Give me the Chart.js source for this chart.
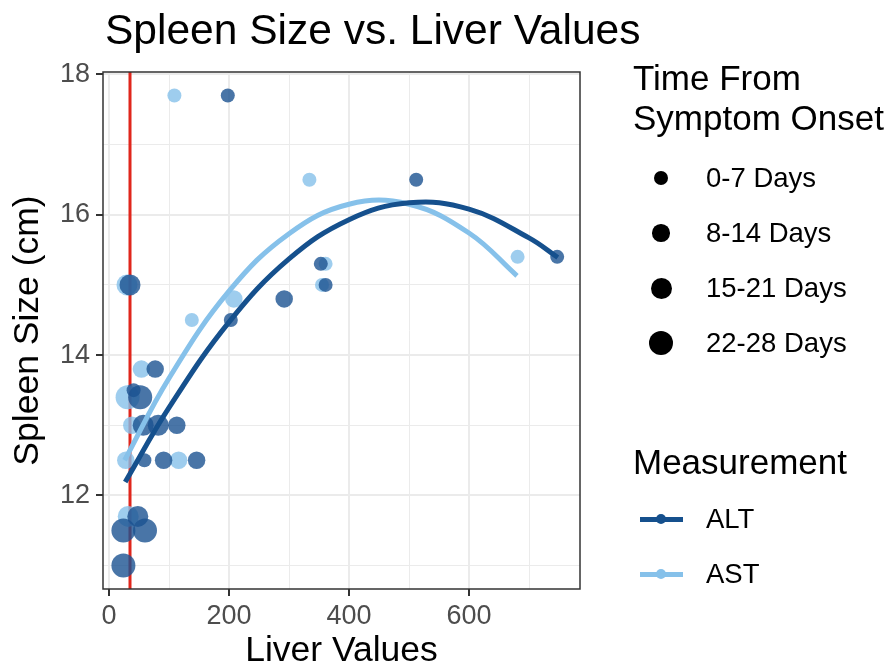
<!DOCTYPE html>
<html>
<head>
<meta charset="utf-8">
<script src="https://cdn.jsdelivr.net/npm/chart.js@4.4.1/dist/chart.umd.min.js"></script>
<style>
  body { margin: 0; background: #fff; font-family: "Liberation Sans", Arial, sans-serif; }
  #wrap { position: relative; width: 891px; height: 669px; overflow: hidden; }
  canvas { position: absolute; left: 0; top: 0; }
  .txt { position: absolute; white-space: nowrap; color: #000; }
  .dot { position: absolute; border-radius: 50%; background: #000; }
  .key { position: absolute; height: 5px; width: 43px; }
</style>
</head>
<body>
<div id="wrap">
  <canvas id="chart" width="891" height="669"></canvas>
  <div class="txt" style="left:105px;top:9px;font-size:42.5px;line-height:42px;">Spleen Size vs. Liver Values</div>
  <div id="legend"></div>
</div>
<script>
// ALT points (dark blue)
const altX = [198, 512, 747, 35, 353, 361, 292, 203, 77, 41, 52, 57, 82, 113, 59, 91, 146, 48, 24, 60, 24];
const altY = [17.7, 16.5, 15.4, 15.0, 15.3, 15.0, 14.8, 14.5, 13.8, 13.5, 13.4, 13.0, 13.0, 13.0, 12.5, 12.5, 12.5, 11.7, 11.5, 11.5, 11.0];
const altDays = [0, 0, 0, 2, 0, 0, 1, 0, 1, 0, 3, 2, 2, 1, 0, 1, 1, 2, 3, 3, 3];

// AST points (light blue)
const astX = [109, 334, 681, 30, 361, 355, 208, 138, 54, 31, 38, 28, 116, 32];
const astY = [17.7, 16.5, 15.4, 15.0, 15.3, 15.0, 14.8, 14.5, 13.8, 13.4, 13.0, 12.5, 12.5, 11.7];
const astDays = [0, 0, 0, 2, 0, 0, 1, 0, 1, 3, 1, 1, 1, 2];

// fitted curves
const altFitX = [27, 100, 200, 300, 400, 500, 600, 700, 748];
const altFitY = [12.19, 13.25, 14.47, 15.37, 15.93, 16.17, 16.08, 15.67, 15.39];
const astFitX = [26, 100, 200, 300, 400, 500, 600, 680];
const astFitY = [12.5, 13.67, 14.91, 15.73, 16.15, 16.15, 15.74, 15.13];

const dayLabels = ["0-7 Days", "8-14 Days", "15-21 Days", "22-28 Days"];
const seriesLabels = ["ALT", "AST"];
const xTicks = [0, 100, 200, 300, 400, 500, 600, 700];
const yTicks = [11, 12, 13, 14, 15, 16, 17, 18];
const refLineX = 35;

const dayRadius = [7, 8.75, 10.5, 12];
const altColor = "#15508d";
const astColor = "#86c1ea";
const altFill = "rgba(27, 82, 145, 0.8)";
const astFill = "rgba(134, 193, 234, 0.8)";
const font = "'Liberation Sans', Arial, sans-serif";

const toPts = (xs, ys) => xs.map((x, i) => ({ x: x, y: ys[i] }));

// red reference line + panel border
const panelPlugin = {
  id: "panel",
  beforeDatasetsDraw(chart) {
    const { ctx, chartArea: a, scales: { x } } = chart;
    const px = x.getPixelForValue(refLineX);
    ctx.save();
    ctx.strokeStyle = "#e0261c";
    ctx.lineWidth = 3;
    ctx.beginPath();
    ctx.moveTo(px, a.top);
    ctx.lineTo(px, a.bottom);
    ctx.stroke();
    ctx.restore();
  },
  afterDatasetsDraw(chart) {
    const { ctx, chartArea: a } = chart;
    ctx.save();
    ctx.strokeStyle = "#333333";
    ctx.lineWidth = 1.5;
    ctx.strokeRect(a.left, a.top, a.right - a.left, a.bottom - a.top);
    ctx.restore();
  }
};

new Chart(document.getElementById("chart"), {
  type: "scatter",
  data: {
    datasets: [
      {
        type: "line",
        label: "ALT fit",
        data: toPts(altFitX, altFitY),
        borderColor: altColor,
        borderWidth: 5,
        pointRadius: 0,
        tension: 0.4,
        fill: false,
        order: 1
      },
      {
        type: "line",
        label: "AST fit",
        data: toPts(astFitX, astFitY),
        borderColor: astColor,
        borderWidth: 5,
        pointRadius: 0,
        tension: 0.4,
        fill: false,
        order: 2
      },
      {
        label: "ALT",
        data: toPts(altX, altY),
        pointRadius: altDays.map(d => dayRadius[d]),
        pointHoverRadius: altDays.map(d => dayRadius[d]),
        pointBackgroundColor: altFill,
        pointBorderWidth: 0,
        order: 3
      },
      {
        label: "AST",
        data: toPts(astX, astY),
        pointRadius: astDays.map(d => dayRadius[d]),
        pointHoverRadius: astDays.map(d => dayRadius[d]),
        pointBackgroundColor: astFill,
        pointBorderWidth: 0,
        order: 4
      }
    ]
  },
  options: {
    responsive: false,
    animation: false,
    devicePixelRatio: 1,
    layout: { padding: { top: 72, right: 311, left: 0, bottom: 0 } },
    plugins: {
      legend: { display: false },
      tooltip: { enabled: false }
    },
    scales: {
      x: {
        type: "linear",
        min: -10,
        max: 785,
        afterBuildTicks: s => { s.ticks = xTicks.map(v => ({ value: v })); },
        afterFit: s => { s.height = 80; },
        border: { display: false },
        grid: {
          color: "#ebebeb",
          lineWidth: c => (c.tick && c.tick.value % 200 === 0) ? 2 : 1,
          tickColor: c => (c.tick && c.tick.value % 200 === 0) ? "#333333" : "rgba(0,0,0,0)",
          tickWidth: 2,
          tickLength: 7
        },
        ticks: {
          autoSkip: false,
          maxRotation: 0,
          padding: 4,
          color: "#4d4d4d",
          font: { family: font, size: 27 },
          callback: v => (v % 200 === 0 ? v : "")
        },
        title: {
          display: true,
          text: "Liver Values",
          color: "#000",
          font: { family: font, size: 35.5, lineHeight: 1.0 },
          padding: { top: 0, bottom: 0 }
        }
      },
      y: {
        type: "linear",
        min: 10.665,
        max: 18.035,
        afterBuildTicks: s => { s.ticks = yTicks.map(v => ({ value: v })); },
        afterFit: s => { s.width = 103; },
        border: { display: false },
        grid: {
          color: "#ebebeb",
          lineWidth: c => (c.tick && c.tick.value % 2 === 0) ? 2 : 1,
          tickColor: c => (c.tick && c.tick.value % 2 === 0) ? "#333333" : "rgba(0,0,0,0)",
          tickWidth: 2,
          tickLength: 7
        },
        ticks: {
          autoSkip: false,
          padding: 6,
          color: "#4d4d4d",
          font: { family: font, size: 27 },
          callback: v => (v % 2 === 0 ? v : "")
        },
        title: {
          display: true,
          text: "Spleen Size (cm)",
          color: "#000",
          font: { family: font, size: 35.5, lineHeight: 1.0 },
          padding: { top: 10, bottom: 0 }
        }
      }
    }
  },
  plugins: [panelPlugin]
});

// legend built as HTML
const legend = document.getElementById("legend");
function addText(text, left, top, size, lh) {
  const d = document.createElement("div");
  d.className = "txt";
  d.style.left = left + "px";
  d.style.top = top + "px";
  d.style.fontSize = size + "px";
  d.style.lineHeight = lh + "px";
  d.innerHTML = text;
  legend.appendChild(d);
}
addText("Time From<br>Symptom Onset", 633, 58, 35, 40);
const dayCentres = [178, 233, 288, 343];
dayLabels.forEach((lab, i) => {
  const r = dayRadius[i];
  const dot = document.createElement("div");
  dot.className = "dot";
  dot.style.left = (661 - r) + "px";
  dot.style.top = (dayCentres[i] - r) + "px";
  dot.style.width = dot.style.height = (2 * r) + "px";
  legend.appendChild(dot);
  addText(lab, 706, dayCentres[i] - 14, 27.5, 28);
});
addText("Measurement", 633, 442, 35, 40);
const keyCentres = [519, 574];
const keyColors = [altColor, astColor];
seriesLabels.forEach((lab, i) => {
  const k = document.createElement("div");
  k.className = "key";
  k.style.left = "640px";
  k.style.top = (keyCentres[i] - 2.5) + "px";
  k.style.background = keyColors[i];
  legend.appendChild(k);
  const dot = document.createElement("div");
  dot.className = "dot";
  dot.style.left = "656px";
  dot.style.top = (keyCentres[i] - 5) + "px";
  dot.style.width = dot.style.height = "10px";
  dot.style.background = keyColors[i];
  legend.appendChild(dot);
  addText(lab, 706, keyCentres[i] - 14, 27.5, 28);
});
</script>
</body>
</html>
